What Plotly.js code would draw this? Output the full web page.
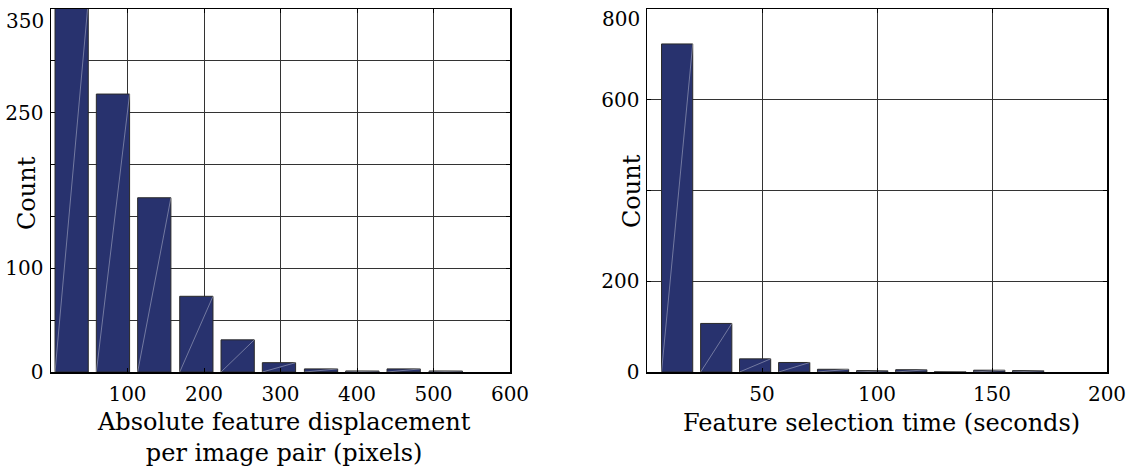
<!DOCTYPE html>
<html>
<head>
<meta charset="utf-8">
<script src="https://cdn.plot.ly/plotly-3.0.1.min.js"></script>
<style>html,body{margin:0;padding:0;background:#fff;}</style>
</head>
<body>
<div id="chart" style="width:1135px;height:467px;"></div>
<script>
// ---- data ----
const dispBinCenters = [27, 81, 135, 190, 244, 298, 353, 407, 461, 516];
const dispCounts = [358, 268, 168, 73, 31, 9, 3, 1, 3, 1];
const dispTickVals = [0, 100, 200, 300, 400, 500, 600];
const dispTickText = ['', '100', '200', '300', '400', '500', '600'];
const dispYTickVals = [0, 50, 100, 150, 200, 250, 300, 350];
const dispYTickText = ['0', '', '100', '', '', '250', '', ''];
const dispYTopLabel = 350;

const timeBinCenters = [13.1, 30.1, 47.0, 64.0, 80.9, 97.9, 114.9, 131.8, 148.8, 165.7];
const timeCounts = [723, 107, 29, 21, 6, 3, 5, 1, 4, 3];
const timeTickVals = [0, 50, 100, 150, 200];
const timeTickText = ['', '50', '100', '150', '200'];
const timeYTickVals = [0, 200, 400, 600, 800];
const timeYTickText = ['0', '200', '', '600', ''];
const timeYTopLabel = 800;

// ---- style ----
const W = 1135, H = 467;
const FONT = 'DejaVu Serif';
const barColor = 'rgb(40,50,110)';
const barFrac = 0.8;

function spacing(c) { return (c[c.length - 1] - c[0]) / (c.length - 1); }

function barTrace(xs, ys, xa, ya) {
  const w = spacing(xs) * barFrac;
  return {
    type: 'bar', x: xs, y: ys, width: xs.map(() => w),
    marker: { color: barColor, line: { color: '#2a2a2a', width: 1 } },
    xaxis: xa, yaxis: ya, hoverinfo: 'x+y', showlegend: false
  };
}
function diagTrace(xs, ys, xa, ya) {
  const w = spacing(xs) * barFrac;
  const dx = [], dy = [];
  xs.forEach((x, i) => { dx.push(x - w / 2, x + w / 2, null); dy.push(0, ys[i], null); });
  return {
    type: 'scatter', mode: 'lines', x: dx, y: dy,
    line: { color: 'rgba(255,255,255,0.35)', width: 1 },
    xaxis: xa, yaxis: ya, hoverinfo: 'skip', showlegend: false
  };
}

const px = v => v / W, py = v => 1 - v / H;

function axisStyle(extra) {
  return Object.assign({
    showgrid: true, gridcolor: '#333', gridwidth: 1,
    showline: true, linecolor: '#000', linewidth: 1.5, mirror: 'ticks',
    ticks: 'inside', ticklen: 4, tickcolor: '#000',
    zeroline: false, tickmode: 'array', ticklabeloverflow: 'allow',
    tickfont: { family: FONT, size: 20, color: '#000' }
  }, extra);
}

const titleFont = { family: FONT, size: 24, color: '#000' };
const tickFont = { family: FONT, size: 20, color: '#000' };

const layout = {
  width: W, height: H,
  margin: { l: 0, r: 0, t: 0, b: 0 },
  paper_bgcolor: '#fff', plot_bgcolor: '#fff',
  bargap: 0,
  xaxis: axisStyle({ domain: [px(51), px(510)], range: [0, 600], anchor: 'y',
    tickvals: dispTickVals, ticktext: dispTickText, ticklabelstandoff: 3 }),
  yaxis: axisStyle({ domain: [py(372), py(9)], range: [0, 350], anchor: 'x',
    tickvals: dispYTickVals, ticktext: dispYTickText, ticklabelstandoff: 2 }),
  xaxis2: axisStyle({ domain: [px(647), px(1107)], range: [0, 200], anchor: 'y2',
    tickvals: timeTickVals, ticktext: timeTickText, ticklabelstandoff: 3 }),
  yaxis2: axisStyle({ domain: [py(372), py(9)], range: [0, 800], anchor: 'x2',
    tickvals: timeYTickVals, ticktext: timeYTickText, ticklabelstandoff: 2 }),
  annotations: [
    { text: String(dispYTopLabel), xref: 'paper', yref: 'y', x: px(46), y: dispYTopLabel,
      xanchor: 'right', yanchor: 'top', yshift: 2, showarrow: false, font: tickFont },
    { text: String(timeYTopLabel), xref: 'paper', yref: 'y2', x: px(642), y: timeYTopLabel,
      xanchor: 'right', yanchor: 'top', yshift: 4, showarrow: false, font: tickFont },
    { text: 'Count', xref: 'paper', yref: 'paper', x: px(27), y: py(193), textangle: -90,
      showarrow: false, xanchor: 'center', yanchor: 'middle', font: titleFont },
    { text: 'Count', xref: 'paper', yref: 'paper', x: px(632), y: py(191), textangle: -90,
      showarrow: false, xanchor: 'center', yanchor: 'middle', font: titleFont },
    { text: 'Absolute feature displacement<br>per image pair (pixels)', xref: 'paper', yref: 'paper',
      x: px(284), y: py(437), showarrow: false, xanchor: 'center', yanchor: 'middle',
      font: titleFont },
    { text: 'Feature selection time (seconds)', xref: 'paper', yref: 'paper',
      x: px(881), y: py(423), showarrow: false, xanchor: 'center', yanchor: 'middle',
      font: titleFont }
  ]
};

const data = [
  barTrace(dispBinCenters, dispCounts, 'x', 'y'),
  diagTrace(dispBinCenters, dispCounts, 'x', 'y'),
  barTrace(timeBinCenters, timeCounts, 'x2', 'y2'),
  diagTrace(timeBinCenters, timeCounts, 'x2', 'y2')
];

Plotly.newPlot('chart', data, layout, { staticPlot: true, displayModeBar: false });
</script>
</body>
</html>
